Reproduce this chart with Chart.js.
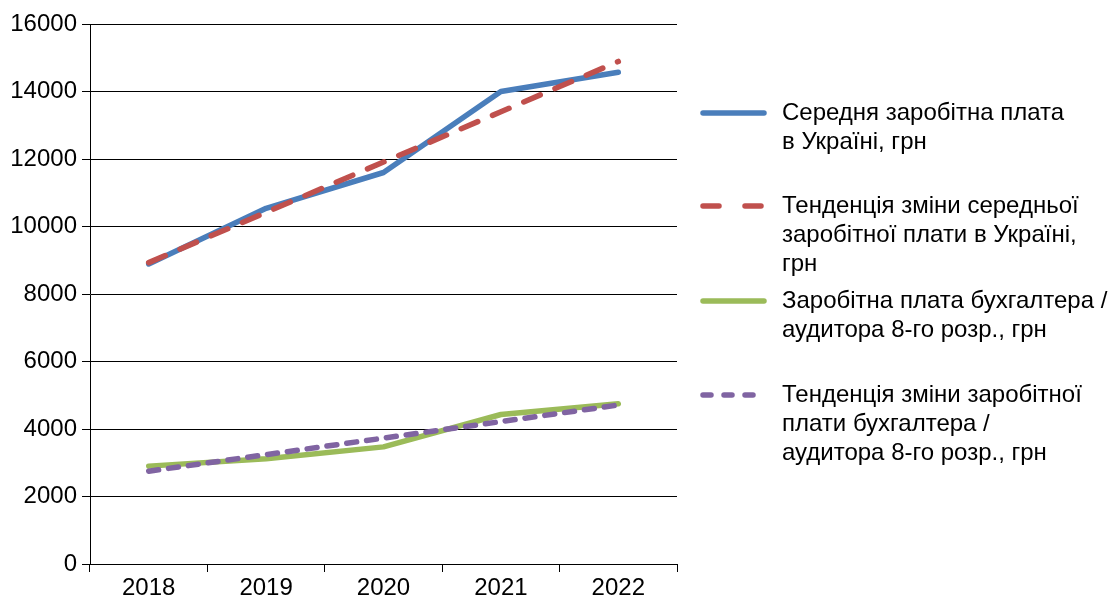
<!DOCTYPE html>
<html>
<head>
<meta charset="utf-8">
<script src="https://cdn.jsdelivr.net/npm/chart.js@4.4.1/dist/chart.umd.min.js"></script>
<style>
  html, body { margin: 0; padding: 0; background: #fff; }
  #wrap { position: relative; width: 1120px; height: 601px; }
  #legend { position: absolute; left: 0; top: 0; font-family: "Liberation Sans", Arial, sans-serif; font-size: 24px; color: #000; }
  .item { position: absolute; left: 700px; }
  .item svg { position: absolute; left: 0; }
  .item .txt { position: absolute; left: 82px; line-height: 29px; white-space: nowrap; }
</style>
</head>
<body>
<div id="wrap">
  <canvas id="c" width="1120" height="601"></canvas>
  <div id="legend"></div>
</div>
<script>
const categories = ['2018', '2019', '2020', '2021', '2022'];
const avgWage = [8890, 10540, 11600, 14000, 14570];
const avgWageTrend = [8930, 10420, 11910, 13400, 14890];
const accountantWage = [2900, 3120, 3470, 4430, 4745];
const accountantTrend = [2750, 3240, 3730, 4220, 4710];
const yTicks = [0, 2000, 4000, 6000, 8000, 10000, 12000, 14000, 16000];
const seriesNames = [
  ['Середня заробітна плата', 'в Україні, грн'],
  ['Тенденція зміни середньої', 'заробітної плати в Україні,', 'грн'],
  ['Заробітна плата бухгалтера /', 'аудитора 8-го розр., грн'],
  ['Тенденція зміни заробітної', 'плати бухгалтера /', 'аудитора 8-го розр., грн']
];

const FONT = '"Liberation Sans", Arial, sans-serif';
const styles = [
  { color: '#4A7EBB', dash: [], width: 5.5 },
  { color: '#C0504D', dash: [18, 16], width: 5.5 },
  { color: '#9BBB59', dash: [], width: 5.5 },
  { color: '#8064A2', dash: [10, 10], width: 5.5 }
];
const seriesData = [avgWage, avgWageTrend, accountantWage, accountantTrend];

const datasets = seriesData.map((d, i) => ({
  label: seriesNames[i].join(' '),
  data: d,
  borderColor: styles[i].color,
  backgroundColor: styles[i].color,
  borderWidth: styles[i].width,
  borderDash: styles[i].dash,
  borderCapStyle: 'round',
  borderJoinStyle: 'round',
  pointRadius: 0,
  tension: 0,
  fill: false
}));
datasets[1].order = 0; datasets[0].order = 1;
datasets[3].order = 0; datasets[2].order = 1;

new Chart(document.getElementById('c'), {
  type: 'line',
  data: { labels: categories, datasets },
  options: {
    responsive: false,
    animation: false,
    layout: { padding: { left: 0, right: 443, top: 24, bottom: 0 } },
    plugins: { legend: { display: false }, tooltip: { enabled: false } },
    scales: {
      x: {
        offset: true,
        grid: { offset: true, drawOnChartArea: false, drawTicks: true, tickLength: 8, color: '#000', lineWidth: 1 },
        border: { display: true, color: '#000', width: 1 },
        ticks: { color: '#000', font: { family: FONT, size: 24 }, padding: 2, maxRotation: 0 },
        afterFit: s => { s.height = 37; }
      },
      y: {
        min: 0, max: 16000,
        afterBuildTicks: s => { s.ticks = yTicks.map(v => ({ value: v })); },
        grid: { color: '#000', lineWidth: 1, tickLength: 8 },
        border: { display: true, color: '#000', width: 1 },
        ticks: { color: '#000', font: { family: FONT, size: 24 }, padding: 5, callback: v => String(v) },
        afterFit: s => { s.width = 90; }
      }
    }
  }
});

const legendTops = [113, 206, 301, 395];
const legend = document.getElementById('legend');
seriesNames.forEach((lines, i) => {
  const item = document.createElement('div');
  item.className = 'item';
  item.style.top = legendTops[i] + 'px';
  const st = styles[i];
  const svgNS = 'http://www.w3.org/2000/svg';
  const svg = document.createElementNS(svgNS, 'svg');
  svg.setAttribute('width', '70'); svg.setAttribute('height', '10');
  svg.style.top = '-5px';
  const ln = document.createElementNS(svgNS, 'line');
  ln.setAttribute('x1', '3'); ln.setAttribute('x2', '64');
  ln.setAttribute('y1', '5'); ln.setAttribute('y2', '5');
  ln.setAttribute('stroke', st.color); ln.setAttribute('stroke-width', st.width);
  ln.setAttribute('stroke-linecap', 'round');
  if (st.dash.length) ln.setAttribute('stroke-dasharray', i === 1 ? '16 26' : '8 13');
  svg.appendChild(ln);
  item.appendChild(svg);
  const txt = document.createElement('div');
  txt.className = 'txt';
  txt.style.top = '-16px';
  txt.innerHTML = lines.map(l => l.replace(/&/g,'&amp;').replace(/</g,'&lt;')).join('<br>');
  item.appendChild(txt);
  legend.appendChild(item);
});
</script>
</body>
</html>
